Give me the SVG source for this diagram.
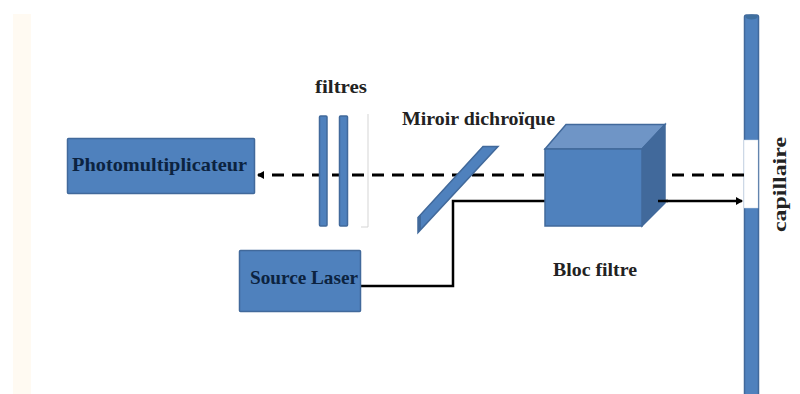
<svg xmlns="http://www.w3.org/2000/svg" width="800" height="394" viewBox="0 0 800 394">
<style>
.b{fill:#4f81bd;stroke:#41699b;stroke-width:1.5}
.t{font-family:"Liberation Serif",serif;font-weight:bold;font-size:19px;fill:#222}
.d{font-family:"Liberation Serif",serif;font-weight:bold;font-size:19px;fill:#0c2340}
.w{fill:none;stroke:#000;stroke-width:2.500}
</style>
<defs>
<marker id="a" markerWidth="8" markerHeight="8" refX="6" refY="4" orient="auto" markerUnits="userSpaceOnUse"><path d="M0 0L7 4L0 8z" fill="#000"/></marker>
</defs>
<rect width="800" height="394" fill="#fff"/>
<rect x="13" y="14" width="18" height="380" fill="#fffaf2"/>
<g id="capillaire">
<rect class="b" x="744.500" y="15" width="14" height="381" rx="2"/>
<ellipse cx="751.500" cy="17" rx="6" ry="2.500" fill="#3f6f9f"/>
<rect x="744" y="140" width="14" height="68" fill="#fff" stroke="#c8d6e6" stroke-width="0.500"/>
<text class="t" transform="translate(786 232) rotate(-90)" textLength="95" lengthAdjust="spacingAndGlyphs">capillaire</text>
</g>
<g id="connecteurs">
<path class="w" stroke-width="3" style="stroke-width:3" stroke-dasharray="12 8" d="M744 175H258" marker-end="url(#a)"/>
<path class="w" d="M361 286H453V201H545"/>
<path class="w" d="M658 201H742" marker-end="url(#a)"/>
</g>
<g id="photomultiplicateur">
<rect class="b" x="67.500" y="138.500" width="187" height="55" rx="1"/>
<text class="d" x="72" y="171" textLength="175" lengthAdjust="spacingAndGlyphs">Photomultiplicateur</text>
</g>
<g id="filtres">
<rect class="b" x="319.500" y="116" width="7.500" height="110" rx="1"/>
<rect class="b" x="339.500" y="116" width="8" height="110" rx="1"/>
<path d="M368 114V227H361" fill="none" stroke="#d5d5d5" stroke-width="1"/>
<text class="t" x="315" y="93" textLength="52" lengthAdjust="spacingAndGlyphs">filtres</text>
</g>
<g id="source-laser">
<rect class="b" x="239.500" y="250.500" width="121" height="61" rx="1"/>
<text class="d" x="250" y="284" textLength="108" lengthAdjust="spacingAndGlyphs">Source Laser</text>
</g>
<g id="miroir">
<path class="b" d="M483 146.500H498L418 232.500V217.500z"/>
<path d="M418 217.500V232.500L421 229V214z" fill="#41699b"/>
<text class="t" x="402" y="125" textLength="153" lengthAdjust="spacingAndGlyphs">Miroir dichroïque</text>
</g>
<g id="bloc-filtre">
<path d="M545 149L566 124.500H665L642 149z" fill="#6f95c6" stroke="#41699b" stroke-width="1.500"/>
<path d="M642 149L665 124.500V203L642 226z" fill="#41699b" stroke="#41699b" stroke-width="1.500"/>
<rect class="b" x="545" y="149" width="97" height="77"/>
<text class="t" x="553" y="276" textLength="84" lengthAdjust="spacingAndGlyphs">Bloc filtre</text>
</g>
<path d="M658 201H668" stroke="#000" stroke-width="2.500" fill="none"/>
</svg>
